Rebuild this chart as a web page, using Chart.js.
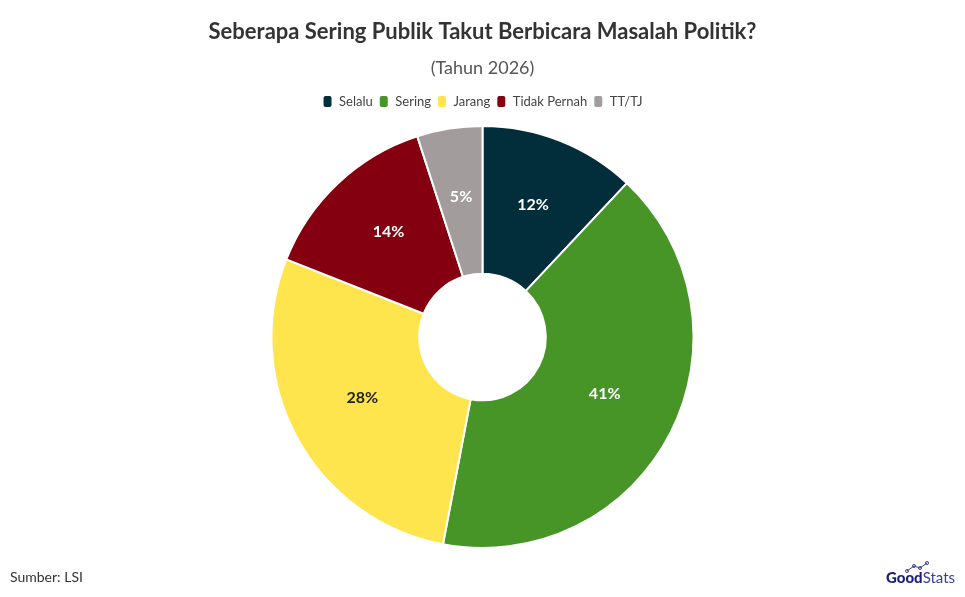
<!DOCTYPE html>
<html>
<head>
<meta charset="utf-8">
<script src="https://cdn.jsdelivr.net/npm/chart.js@4"></script>
<style>
  html, body { margin: 0; padding: 0; background: #fff; }
  .wrap { position: relative; width: 965px; height: 597px; }
</style>
</head>
<body>
<div class="wrap"><canvas id="myChart" width="965" height="597"></canvas></div>
<script>
const labels = ['Selalu', 'Sering', 'Jarang', 'Tidak Pernah', 'TT/TJ'];
const values = [12, 41, 28, 14, 5];
const colors = ['#022d3b', '#479427', '#ffe54d', '#840010', '#a29c9c'];
const labelColors = ['#fff', '#fff', '#222', '#fff', '#fff'];

const FONT = "'Lato', 'Open Sans', sans-serif";

// draws the % inside each slice
const sliceLabels = {
  id: 'sliceLabels',
  afterDatasetsDraw(chart) {
    const ctx = chart.ctx;
    const meta = chart.getDatasetMeta(0);
    ctx.save();
    ctx.font = 'bold 16px ' + FONT;
    ctx.textAlign = 'center';
    ctx.textBaseline = 'middle';
    meta.data.forEach((arc, i) => {
      const p = arc.tooltipPosition();
      ctx.fillStyle = labelColors[i];
      ctx.fillText(values[i] + '%', p.x, p.y - 5);
    });
    ctx.restore();
  }
};

// a bit more room under the legend
const legendGap = {
  id: 'legendGap',
  beforeInit(chart) {
    const origFit = chart.legend.fit;
    chart.legend.fit = function() {
      origFit.bind(chart.legend)();
      this.height += 7;
    };
  }
};

// source note + logo
const footer = {
  id: 'footer',
  afterDraw(chart) {
    const ctx = chart.ctx;
    ctx.save();
    ctx.textBaseline = 'middle';
    ctx.textAlign = 'left';
    ctx.font = '14px ' + FONT;
    ctx.fillStyle = '#333';
    ctx.fillText('Sumber: LSI', 10, 577);

    ctx.font = '900 15px ' + FONT;
    ctx.fillStyle = '#1b1f7a';
    ctx.fillText('Good', 886, 578);
    const w = ctx.measureText('Good').width;
    ctx.font = '15px ' + FONT;
    ctx.fillStyle = '#3a3f9a';
    ctx.fillText('Stats', 886 + w, 578);
    // little trend line above the logo
    ctx.strokeStyle = '#3a3f9a';
    ctx.lineWidth = 1;
    ctx.beginPath();
    ctx.moveTo(907, 571); ctx.lineTo(914, 566); ctx.lineTo(920, 568); ctx.lineTo(927, 563);
    ctx.stroke();
    [[907, 571], [914, 566], [920, 568], [927, 563]].forEach(([x, y]) => {
      ctx.beginPath(); ctx.arc(x, y, 1.5, 0, Math.PI * 2); ctx.stroke();
    });
    ctx.restore();
  }
};

const data = {
  labels: labels,
  datasets: [{
    data: values,
    backgroundColor: colors,
    borderColor: '#fff',
    borderWidth: 2
  }]
};

const config = {
  type: 'doughnut',
  data,
  options: {
    responsive: false,
    animation: false,
    cutout: '30%',
    layout: { padding: { top: 0, bottom: 48 } },
    plugins: {
      title: {
        display: true,
        text: 'Seberapa Sering Publik Takut Berbicara Masalah Politik?',
        color: '#333',
        font: { family: FONT, size: 22, weight: 'bold' },
        padding: { top: 19, bottom: 12 }
      },
      subtitle: {
        display: true,
        text: '(Tahun 2026)',
        color: '#555',
        font: { family: FONT, size: 18 },
        padding: { bottom: 10 }
      },
      legend: {
        position: 'top',
        labels: {
          color: '#444',
          font: { family: FONT, size: 13 },
          boxWidth: 10,
          boxHeight: 13,
          useBorderRadius: true,
          borderRadius: 3,
          padding: 6
        }
      },
      tooltip: { enabled: false }
    }
  },
  plugins: [legendGap, sliceLabels, footer]
};

new Chart(document.getElementById('myChart'), config);
</script>
</body>
</html>
